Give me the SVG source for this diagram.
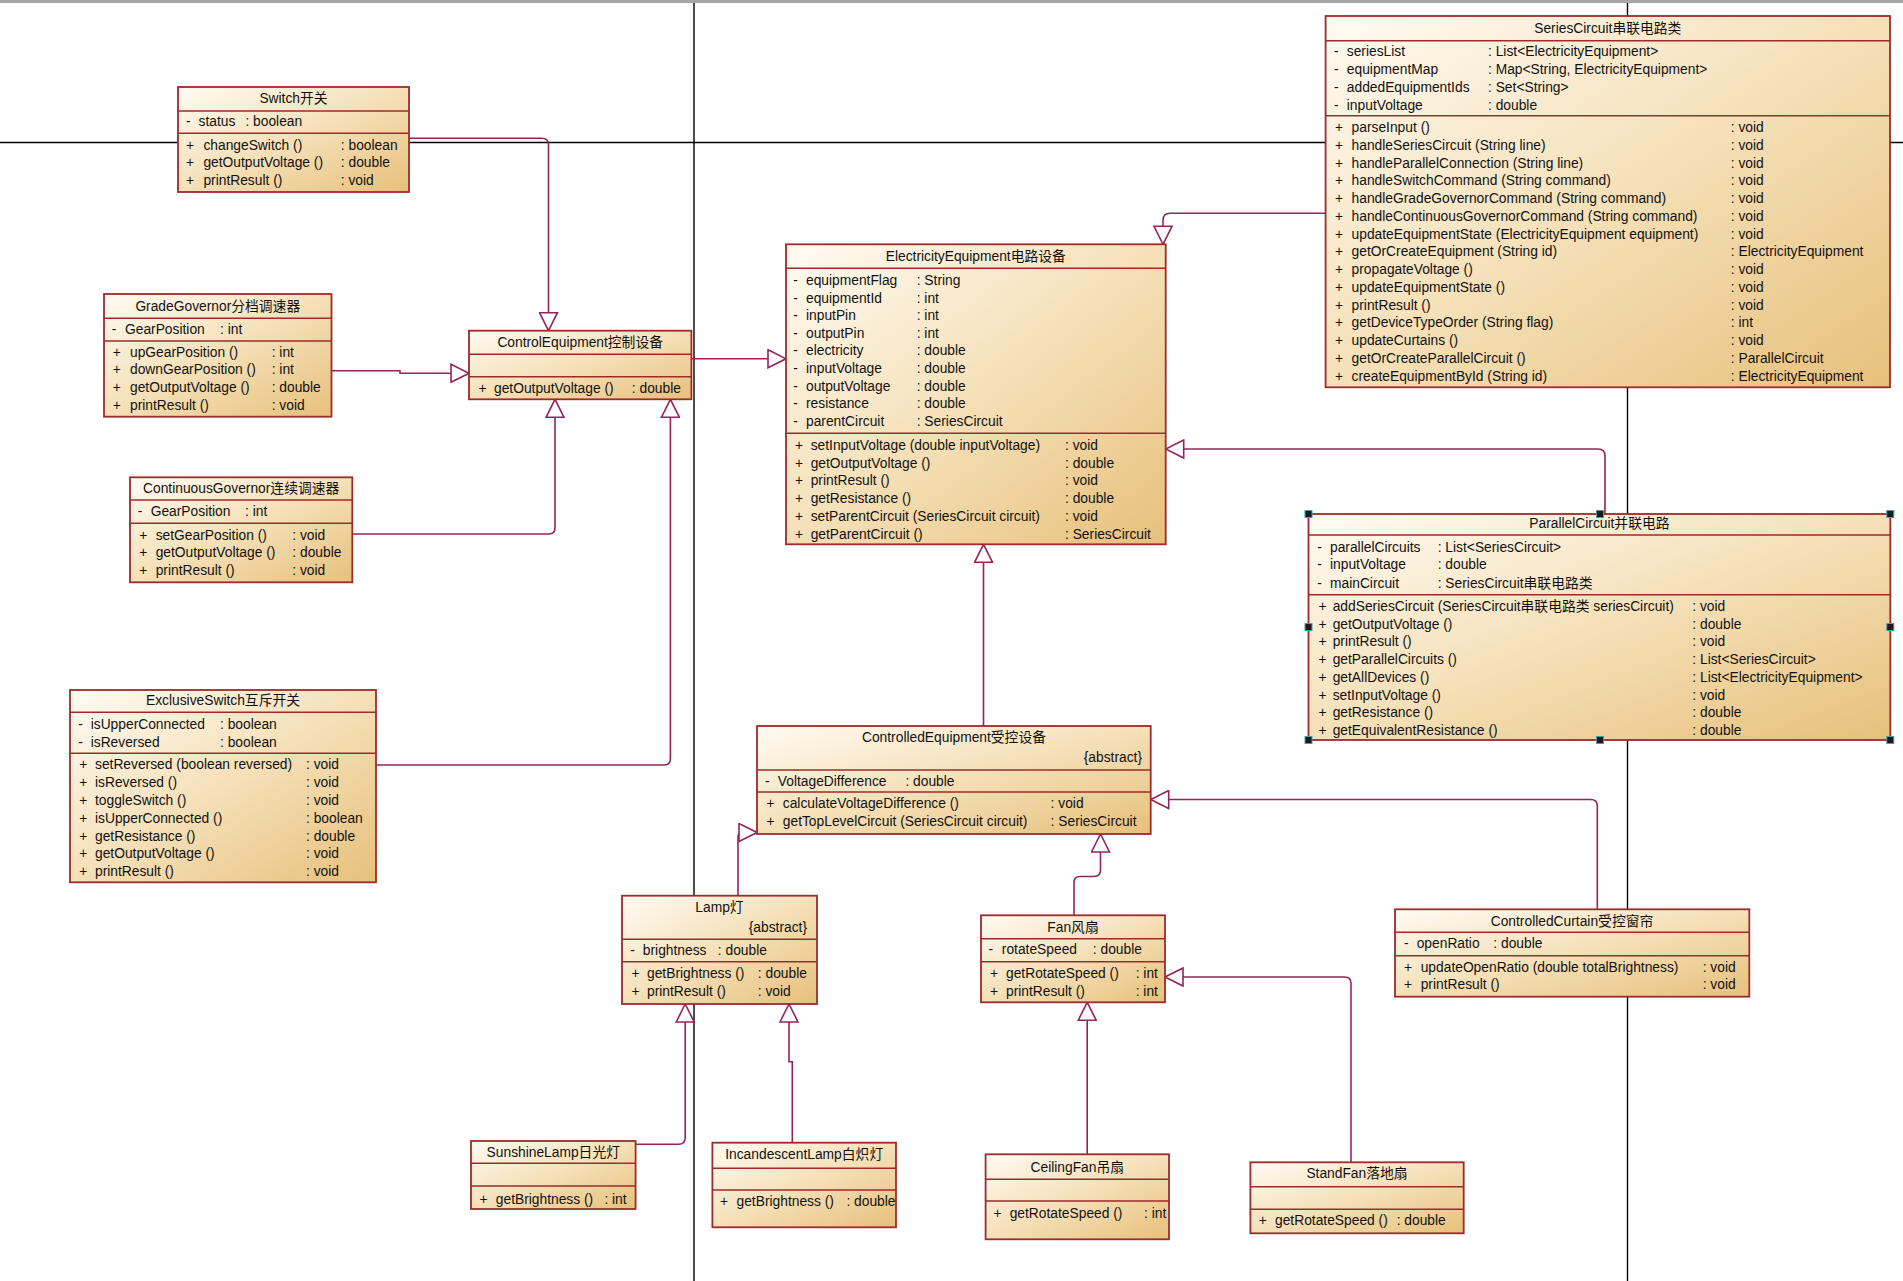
<svg xmlns="http://www.w3.org/2000/svg" width="1903" height="1281" viewBox="0 0 1903 1281">
<defs>
<linearGradient id="g" x1="0" y1="0" x2="1" y2="1">
<stop offset="0" stop-color="#fffbf3"/>
<stop offset="0.5" stop-color="#f5e0b8"/>
<stop offset="1" stop-color="#e7c07b"/>
</linearGradient>
<marker id="tri" markerUnits="userSpaceOnUse" viewBox="0 0 20 20" refX="19" refY="10" markerWidth="20" markerHeight="20" orient="auto">
<path d="M1,1 L19,10 L1,19 Z" fill="#fff" stroke="#94245a" stroke-width="1.6"/>
</marker>
<style>
.box{fill:url(#g);stroke:#9e2a2b;stroke-width:1.8}
.sep{stroke:#9e2a2b;stroke-width:1.6}
text{font-family:"Liberation Sans","Noto Sans CJK SC",sans-serif;font-size:13.8px;fill:#111}
.c{text-anchor:middle}
.r{text-anchor:end}
.conn{fill:none;stroke:#94245a;stroke-width:1.6;marker-end:url(#tri)}
.pg{stroke:#000;stroke-width:1.4}
.h{fill:#1a1a1a;stroke:#4a9ab0;stroke-width:1}
</style>
</defs>
<rect x="0" y="0" width="1903" height="1281" fill="#fff"/>
<g id="page">
<rect x="0" y="0" width="1903" height="3" fill="#a5a5a5"/>
<line class="pg" x1="0" y1="142.5" x2="1903" y2="142.5"/>
<line class="pg" x1="694" y1="3" x2="694" y2="1281"/>
<line class="pg" x1="1627.5" y1="3" x2="1627.5" y2="1281"/>
</g>
<g id="connectors">
<path class="conn" d="M409,138.3 L542,138.3 Q548.5,138.3 548.5,145 L548.5,330.7"/>
<path class="conn" d="M331.5,370.7 L400,370.7 L400,373.3 L469,373.3"/>
<path class="conn" d="M352.3,534 L549,534 Q555,534 555,528 L555,399.3"/>
<path class="conn" d="M376,765 L664,765 Q670.4,765 670.4,758.5 L670.4,399.3"/>
<path class="conn" d="M691.4,358.8 L786,358.8"/>
<path class="conn" d="M1325.6,213.3 L1170,213.3 Q1163,213.3 1163,220.3 L1163,244.3"/>
<path class="conn" d="M1605,514 L1605,456 Q1605,449 1598,449 L1165.7,449"/>
<path class="conn" d="M983.5,726 L983.5,544.3"/>
<path class="conn" d="M738,895.7 L738,837 Q738,832.5 742,832.5 L757,832.5"/>
<path class="conn" d="M1074,915.3 L1074,882.5 Q1074,876.5 1080,876.5 L1094,876.5 Q1100.5,876.5 1100.5,870 L1100.5,834"/>
<path class="conn" d="M1597.3,909.3 L1597.3,806 Q1597.3,799.5 1590.5,799.5 L1150.7,799.5"/>
<path class="conn" d="M635.6,1144.3 L678.5,1144.3 Q685.2,1144.3 685.2,1137.5 L685.2,1004"/>
<path class="conn" d="M792.3,1142.7 L792.3,1061.7 L789,1061.7 L789,1004"/>
<path class="conn" d="M1087.2,1154.3 L1087.2,1002.3"/>
<path class="conn" d="M1351,1162.3 L1351,983.5 Q1351,977 1344.5,977 L1165,977"/>
</g>
<g id="switch">
<rect class="box" x="178" y="87" width="231" height="105"/>
<line class="sep" x1="178" y1="111" x2="409" y2="111"/>
<line class="sep" x1="178" y1="133.3" x2="409" y2="133.3"/>
<text class="c" x="293.5" y="103.3">Switch开关</text>
<text x="186" y="125.7">-</text><text x="198.6" y="125.7">status</text><text x="245.4" y="125.7">: boolean</text>
<text x="186" y="149.5">+</text><text x="203.4" y="149.5">changeSwitch ()</text><text x="340.8" y="149.5">: boolean</text>
<text x="186" y="167">+</text><text x="203.4" y="167">getOutputVoltage ()</text><text x="340.8" y="167">: double</text>
<text x="186" y="184.5">+</text><text x="203.4" y="184.5">printResult ()</text><text x="340.8" y="184.5">: void</text>
</g>
<g id="gradeGovernor">
<rect class="box" x="104" y="294" width="227.5" height="122.7"/>
<line class="sep" x1="104" y1="318.3" x2="331.5" y2="318.3"/>
<line class="sep" x1="104" y1="341" x2="331.5" y2="341"/>
<text class="c" x="217.8" y="311">GradeGovernor分档调速器</text>
<text x="111.7" y="334.3">-</text><text x="125" y="334.3">GearPosition</text><text x="220" y="334.3">: int</text>
<text x="112.7" y="356.5">+</text><text x="130" y="356.5">upGearPosition ()</text><text x="271.7" y="356.5">: int</text>
<text x="112.7" y="374.3">+</text><text x="130" y="374.3">downGearPosition ()</text><text x="271.7" y="374.3">: int</text>
<text x="112.7" y="392">+</text><text x="130" y="392">getOutputVoltage ()</text><text x="271.7" y="392">: double</text>
<text x="112.7" y="409.8">+</text><text x="130" y="409.8">printResult ()</text><text x="271.7" y="409.8">: void</text>
</g>
<g id="controlEquipment">
<rect class="box" x="469" y="330.7" width="222.4" height="68.6"/>
<line class="sep" x1="469" y1="354.3" x2="691.4" y2="354.3"/>
<line class="sep" x1="469" y1="376.7" x2="691.4" y2="376.7"/>
<text class="c" x="580.2" y="346.7">ControlEquipment控制设备</text>
<text x="478.6" y="392.7">+</text><text x="494" y="392.7">getOutputVoltage ()</text><text x="631.8" y="392.7">: double</text>
</g>
<g id="continuousGovernor">
<rect class="box" x="130" y="477.3" width="222.3" height="105"/>
<line class="sep" x1="130" y1="500" x2="352.3" y2="500"/>
<line class="sep" x1="130" y1="523.3" x2="352.3" y2="523.3"/>
<text class="c" x="241.2" y="493.3">ContinuousGovernor连续调速器</text>
<text x="137.7" y="515.7">-</text><text x="150.7" y="515.7">GearPosition</text><text x="245" y="515.7">: int</text>
<text x="139.3" y="539.5">+</text><text x="155.7" y="539.5">setGearPosition ()</text><text x="292.3" y="539.5">: void</text>
<text x="139.3" y="557">+</text><text x="155.7" y="557">getOutputVoltage ()</text><text x="292.3" y="557">: double</text>
<text x="139.3" y="574.5">+</text><text x="155.7" y="574.5">printResult ()</text><text x="292.3" y="574.5">: void</text>
</g>
<g id="exclusiveSwitch">
<rect class="box" x="70" y="690" width="306" height="192.3"/>
<line class="sep" x1="70" y1="712.3" x2="376" y2="712.3"/>
<line class="sep" x1="70" y1="753.3" x2="376" y2="753.3"/>
<text class="c" x="223" y="705">ExclusiveSwitch互斥开关</text>
<text x="78.3" y="729">-</text><text x="90.7" y="729">isUpperConnected</text><text x="220" y="729">: boolean</text>
<text x="78.3" y="747">-</text><text x="90.7" y="747">isReversed</text><text x="220" y="747">: boolean</text>
<text x="79.3" y="769.3">+</text><text x="95" y="769.3">setReversed (boolean reversed)</text><text x="306" y="769.3">: void</text>
<text x="79.3" y="787.1">+</text><text x="95" y="787.1">isReversed ()</text><text x="306" y="787.1">: void</text>
<text x="79.3" y="804.9">+</text><text x="95" y="804.9">toggleSwitch ()</text><text x="306" y="804.9">: void</text>
<text x="79.3" y="822.7">+</text><text x="95" y="822.7">isUpperConnected ()</text><text x="306" y="822.7">: boolean</text>
<text x="79.3" y="840.5">+</text><text x="95" y="840.5">getResistance ()</text><text x="306" y="840.5">: double</text>
<text x="79.3" y="858.3">+</text><text x="95" y="858.3">getOutputVoltage ()</text><text x="306" y="858.3">: void</text>
<text x="79.3" y="876.1">+</text><text x="95" y="876.1">printResult ()</text><text x="306" y="876.1">: void</text>
</g>
<g id="electricityEquipment">
<rect class="box" x="786" y="244.3" width="379.7" height="300"/>
<line class="sep" x1="786" y1="268.3" x2="1165.7" y2="268.3"/>
<line class="sep" x1="786" y1="433.3" x2="1165.7" y2="433.3"/>
<text class="c" x="975.8" y="261">ElectricityEquipment电路设备</text>
<text x="793.3" y="285">-</text><text x="806" y="285">equipmentFlag</text><text x="916.7" y="285">: String</text>
<text x="793.3" y="302.6">-</text><text x="806" y="302.6">equipmentId</text><text x="916.7" y="302.6">: int</text>
<text x="793.3" y="320.2">-</text><text x="806" y="320.2">inputPin</text><text x="916.7" y="320.2">: int</text>
<text x="793.3" y="337.8">-</text><text x="806" y="337.8">outputPin</text><text x="916.7" y="337.8">: int</text>
<text x="793.3" y="355.4">-</text><text x="806" y="355.4">electricity</text><text x="916.7" y="355.4">: double</text>
<text x="793.3" y="373">-</text><text x="806" y="373">inputVoltage</text><text x="916.7" y="373">: double</text>
<text x="793.3" y="390.6">-</text><text x="806" y="390.6">outputVoltage</text><text x="916.7" y="390.6">: double</text>
<text x="793.3" y="408.2">-</text><text x="806" y="408.2">resistance</text><text x="916.7" y="408.2">: double</text>
<text x="793.3" y="425.8">-</text><text x="806" y="425.8">parentCircuit</text><text x="916.7" y="425.8">: SeriesCircuit</text>
<text x="795" y="450">+</text><text x="810.7" y="450">setInputVoltage (double inputVoltage)</text><text x="1065" y="450">: void</text>
<text x="795" y="467.7">+</text><text x="810.7" y="467.7">getOutputVoltage ()</text><text x="1065" y="467.7">: double</text>
<text x="795" y="485.4">+</text><text x="810.7" y="485.4">printResult ()</text><text x="1065" y="485.4">: void</text>
<text x="795" y="503.1">+</text><text x="810.7" y="503.1">getResistance ()</text><text x="1065" y="503.1">: double</text>
<text x="795" y="520.8">+</text><text x="810.7" y="520.8">setParentCircuit (SeriesCircuit circuit)</text><text x="1065" y="520.8">: void</text>
<text x="795" y="538.5">+</text><text x="810.7" y="538.5">getParentCircuit ()</text><text x="1065" y="538.5">: SeriesCircuit</text>
</g>
<g id="seriesCircuit">
<rect class="box" x="1325.6" y="16" width="564.4" height="371.3"/>
<line class="sep" x1="1325.6" y1="40.7" x2="1890" y2="40.7"/>
<line class="sep" x1="1325.6" y1="115.7" x2="1890" y2="115.7"/>
<text class="c" x="1607.8" y="32.7">SeriesCircuit串联电路类</text>
<text x="1334" y="55.7">-</text><text x="1346.8" y="55.7">seriesList</text><text x="1488" y="55.7">: List&lt;ElectricityEquipment&gt;</text>
<text x="1334" y="73.7">-</text><text x="1346.8" y="73.7">equipmentMap</text><text x="1488" y="73.7">: Map&lt;String, ElectricityEquipment&gt;</text>
<text x="1334" y="91.7">-</text><text x="1346.8" y="91.7">addedEquipmentIds</text><text x="1488" y="91.7">: Set&lt;String&gt;</text>
<text x="1334" y="109.7">-</text><text x="1346.8" y="109.7">inputVoltage</text><text x="1488" y="109.7">: double</text>
<text x="1334.9" y="132">+</text><text x="1351.6" y="132">parseInput ()</text><text x="1730.8" y="132">: void</text>
<text x="1334.9" y="149.8">+</text><text x="1351.6" y="149.8">handleSeriesCircuit (String line)</text><text x="1730.8" y="149.8">: void</text>
<text x="1334.9" y="167.5">+</text><text x="1351.6" y="167.5">handleParallelConnection (String line)</text><text x="1730.8" y="167.5">: void</text>
<text x="1334.9" y="185.3">+</text><text x="1351.6" y="185.3">handleSwitchCommand (String command)</text><text x="1730.8" y="185.3">: void</text>
<text x="1334.9" y="203">+</text><text x="1351.6" y="203">handleGradeGovernorCommand (String command)</text><text x="1730.8" y="203">: void</text>
<text x="1334.9" y="220.8">+</text><text x="1351.6" y="220.8">handleContinuousGovernorCommand (String command)</text><text x="1730.8" y="220.8">: void</text>
<text x="1334.9" y="238.5">+</text><text x="1351.6" y="238.5">updateEquipmentState (ElectricityEquipment equipment)</text><text x="1730.8" y="238.5">: void</text>
<text x="1334.9" y="256.3">+</text><text x="1351.6" y="256.3">getOrCreateEquipment (String id)</text><text x="1730.8" y="256.3">: ElectricityEquipment</text>
<text x="1334.9" y="274">+</text><text x="1351.6" y="274">propagateVoltage ()</text><text x="1730.8" y="274">: void</text>
<text x="1334.9" y="291.8">+</text><text x="1351.6" y="291.8">updateEquipmentState ()</text><text x="1730.8" y="291.8">: void</text>
<text x="1334.9" y="309.5">+</text><text x="1351.6" y="309.5">printResult ()</text><text x="1730.8" y="309.5">: void</text>
<text x="1334.9" y="327.3">+</text><text x="1351.6" y="327.3">getDeviceTypeOrder (String flag)</text><text x="1730.8" y="327.3">: int</text>
<text x="1334.9" y="345">+</text><text x="1351.6" y="345">updateCurtains ()</text><text x="1730.8" y="345">: void</text>
<text x="1334.9" y="362.8">+</text><text x="1351.6" y="362.8">getOrCreateParallelCircuit ()</text><text x="1730.8" y="362.8">: ParallelCircuit</text>
<text x="1334.9" y="380.5">+</text><text x="1351.6" y="380.5">createEquipmentById (String id)</text><text x="1730.8" y="380.5">: ElectricityEquipment</text>
</g>
<g id="parallelCircuit">
<rect class="box" x="1308.5" y="514" width="581.8" height="226"/>
<line class="sep" x1="1308.5" y1="535" x2="1890.3" y2="535"/>
<line class="sep" x1="1308.5" y1="594.7" x2="1890.3" y2="594.7"/>
<text class="c" x="1599.4" y="528.3">ParallelCircuit并联电路</text>
<text x="1317.3" y="551.7">-</text><text x="1330" y="551.7">parallelCircuits</text><text x="1437.7" y="551.7">: List&lt;SeriesCircuit&gt;</text>
<text x="1317.3" y="569.3">-</text><text x="1330" y="569.3">inputVoltage</text><text x="1437.7" y="569.3">: double</text>
<text x="1317.3" y="587.7">-</text><text x="1330" y="587.7">mainCircuit</text><text x="1437.7" y="587.7">: SeriesCircuit串联电路类</text>
<text x="1318.5" y="610.7">+</text><text x="1332.7" y="610.7">addSeriesCircuit (SeriesCircuit串联电路类 seriesCircuit)</text><text x="1692.3" y="610.7">: void</text>
<text x="1318.5" y="628.5">+</text><text x="1332.7" y="628.5">getOutputVoltage ()</text><text x="1692.3" y="628.5">: double</text>
<text x="1318.5" y="646.2">+</text><text x="1332.7" y="646.2">printResult ()</text><text x="1692.3" y="646.2">: void</text>
<text x="1318.5" y="664">+</text><text x="1332.7" y="664">getParallelCircuits ()</text><text x="1692.3" y="664">: List&lt;SeriesCircuit&gt;</text>
<text x="1318.5" y="681.7">+</text><text x="1332.7" y="681.7">getAllDevices ()</text><text x="1692.3" y="681.7">: List&lt;ElectricityEquipment&gt;</text>
<text x="1318.5" y="699.5">+</text><text x="1332.7" y="699.5">setInputVoltage ()</text><text x="1692.3" y="699.5">: void</text>
<text x="1318.5" y="717.2">+</text><text x="1332.7" y="717.2">getResistance ()</text><text x="1692.3" y="717.2">: double</text>
<text x="1318.5" y="735">+</text><text x="1332.7" y="735">getEquivalentResistance ()</text><text x="1692.3" y="735">: double</text>
<rect class="h" x="1305" y="510.5" width="7" height="7"/>
<rect class="h" x="1596.5" y="510.5" width="7" height="7"/>
<rect class="h" x="1886.8" y="510.5" width="7" height="7"/>
<rect class="h" x="1305" y="623.5" width="7" height="7"/>
<rect class="h" x="1886.8" y="623.5" width="7" height="7"/>
<rect class="h" x="1305" y="736.5" width="7" height="7"/>
<rect class="h" x="1596.5" y="736.5" width="7" height="7"/>
<rect class="h" x="1886.8" y="736.5" width="7" height="7"/>
</g>
<g id="controlledEquipment">
<rect class="box" x="757" y="726" width="393.7" height="108"/>
<line class="sep" x1="757" y1="770" x2="1150.7" y2="770"/>
<line class="sep" x1="757" y1="792" x2="1150.7" y2="792"/>
<text class="c" x="954" y="742.3">ControlledEquipment受控设备</text>
<text class="r" x="1142" y="761.7">{abstract}</text>
<text x="765" y="785.7">-</text><text x="777.8" y="785.7">VoltageDifference</text><text x="905.4" y="785.7">: double</text>
<text x="766.4" y="808.3">+</text><text x="782.8" y="808.3">calculateVoltageDifference ()</text><text x="1050.6" y="808.3">: void</text>
<text x="766.4" y="826">+</text><text x="782.8" y="826">getTopLevelCircuit (SeriesCircuit circuit)</text><text x="1050.6" y="826">: SeriesCircuit</text>
</g>
<g id="lamp">
<rect class="box" x="622" y="895.7" width="195" height="108.3"/>
<line class="sep" x1="622" y1="939.3" x2="817" y2="939.3"/>
<line class="sep" x1="622" y1="961.7" x2="817" y2="961.7"/>
<text class="c" x="719.5" y="912.3">Lamp灯</text>
<text class="r" x="807" y="931.7">{abstract}</text>
<text x="630.3" y="955">-</text><text x="642.8" y="955">brightness</text><text x="717.8" y="955">: double</text>
<text x="631.4" y="978.3">+</text><text x="647" y="978.3">getBrightness ()</text><text x="757.8" y="978.3">: double</text>
<text x="631.4" y="996">+</text><text x="647" y="996">printResult ()</text><text x="757.8" y="996">: void</text>
</g>
<g id="fan">
<rect class="box" x="981" y="915.3" width="184" height="87"/>
<line class="sep" x1="981" y1="938.7" x2="1165" y2="938.7"/>
<line class="sep" x1="981" y1="961.7" x2="1165" y2="961.7"/>
<text class="c" x="1073" y="931.7">Fan风扇</text>
<text x="988.5" y="954">-</text><text x="1001.8" y="954">rotateSpeed</text><text x="1092.8" y="954">: double</text>
<text x="990" y="978.3">+</text><text x="1006" y="978.3">getRotateSpeed ()</text><text x="1135.7" y="978.3">: int</text>
<text x="990" y="996">+</text><text x="1006" y="996">printResult ()</text><text x="1135.7" y="996">: int</text>
</g>
<g id="controlledCurtain">
<rect class="box" x="1395" y="909.3" width="354.3" height="87.4"/>
<line class="sep" x1="1395" y1="932.3" x2="1749.3" y2="932.3"/>
<line class="sep" x1="1395" y1="955.7" x2="1749.3" y2="955.7"/>
<text class="c" x="1572" y="925.7">ControlledCurtain受控窗帘</text>
<text x="1404" y="947.7">-</text><text x="1416.7" y="947.7">openRatio</text><text x="1493.3" y="947.7">: double</text>
<text x="1404" y="972">+</text><text x="1420.7" y="972">updateOpenRatio (double totalBrightness)</text><text x="1702.7" y="972">: void</text>
<text x="1404" y="989">+</text><text x="1420.7" y="989">printResult ()</text><text x="1702.7" y="989">: void</text>
</g>
<g id="sunshineLamp">
<rect class="box" x="471" y="1141" width="164.6" height="68"/>
<line class="sep" x1="471" y1="1163.3" x2="635.6" y2="1163.3"/>
<line class="sep" x1="471" y1="1186" x2="635.6" y2="1186"/>
<text class="c" x="553.3" y="1157.3">SunshineLamp日光灯</text>
<text x="479.5" y="1204">+</text><text x="495.8" y="1204">getBrightness ()</text><text x="604.4" y="1204">: int</text>
</g>
<g id="incandescentLamp">
<rect class="box" x="712.4" y="1142.7" width="183.6" height="84.6"/>
<line class="sep" x1="712.4" y1="1168.3" x2="896" y2="1168.3"/>
<line class="sep" x1="712.4" y1="1190" x2="896" y2="1190"/>
<text class="c" x="804.2" y="1159.3">IncandescentLamp白炽灯</text>
<text x="720" y="1206">+</text><text x="736.5" y="1206">getBrightness ()</text><text x="846.4" y="1206">: double</text>
</g>
<g id="ceilingFan">
<rect class="box" x="985.6" y="1154.3" width="183.4" height="85"/>
<line class="sep" x1="985.6" y1="1179.3" x2="1169" y2="1179.3"/>
<line class="sep" x1="985.6" y1="1201" x2="1169" y2="1201"/>
<text class="c" x="1077.3" y="1171.7">CeilingFan吊扇</text>
<text x="993.4" y="1218.3">+</text><text x="1009.7" y="1218.3">getRotateSpeed ()</text><text x="1144" y="1218.3">: int</text>
</g>
<g id="standFan">
<rect class="box" x="1250.4" y="1162.3" width="213.3" height="71"/>
<line class="sep" x1="1250.4" y1="1186.7" x2="1463.7" y2="1186.7"/>
<line class="sep" x1="1250.4" y1="1209.3" x2="1463.7" y2="1209.3"/>
<text class="c" x="1357" y="1178.3">StandFan落地扇</text>
<text x="1258.8" y="1225">+</text><text x="1275" y="1225">getRotateSpeed ()</text><text x="1396.7" y="1225">: double</text>
</g>
</svg>
